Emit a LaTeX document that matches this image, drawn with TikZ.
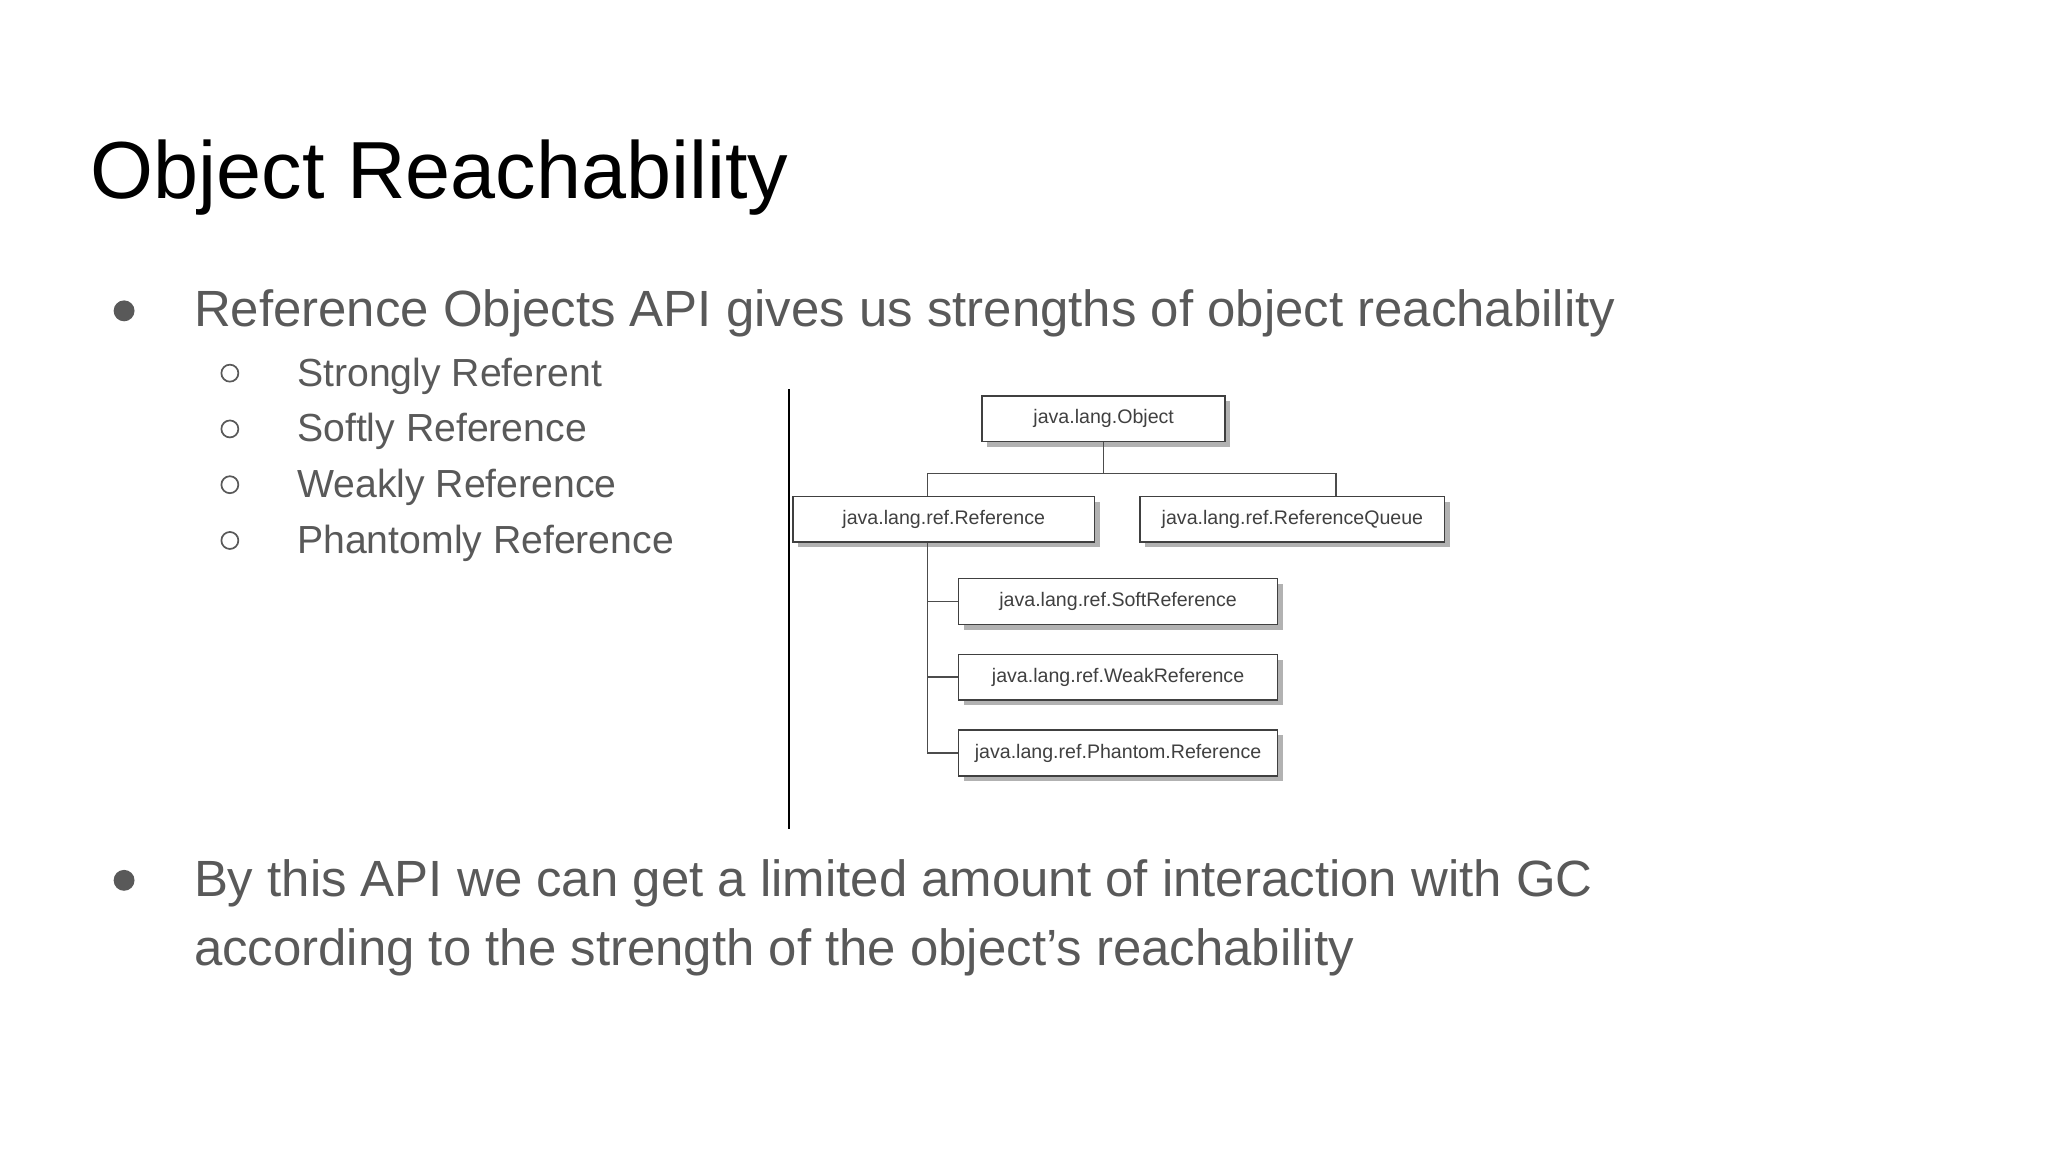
\documentclass[tikz,border=0pt]{standalone}
\usepackage{fontspec}
\setmainfont{Liberation Sans}
\usetikzlibrary{shadows}
\definecolor{txt}{HTML}{595959}
\begin{document}
\begin{tikzpicture}[x=1pt,y=-1pt,
  box/.style={draw=black!75,line width=1.2pt,fill=white,minimum height=35pt,inner sep=0pt,font=\fontsize{15}{15}\selectfont\color{black!75},
    drop shadow={shadow xshift=4pt,shadow yshift=-4pt,fill=black!30,opacity=1}},
  conn/.style={draw=black!70,line width=1.2pt},
  body/.style={anchor=base west,text=txt,font=\fontsize{39}{53}\selectfont},
  sub/.style={anchor=base west,text=txt,font=\fontsize{30}{35}\selectfont}]
\useasboundingbox[fill=white] (0,0) rectangle (1568,882);
\node[anchor=base west,font=\fontsize{62}{70}\selectfont] (title) at (66,152) {Object Reachability};
\node[body] (b1) at (145,250) {Reference Objects API gives us strengths of object reachability};
\fill[txt] (95,238) circle (8pt);
\foreach \i/\t in {1/Strongly Referent,2/Softly Reference,3/Weakly Reference,4/Phantomly Reference}{
  \node[sub] (s\i) at (224,{253+\i*42.7}) {\t};
  \draw[txt,line width=1.3pt] (176,{243+\i*42.7}) circle (6.5pt);
}
\fill[txt] (95,674) circle (8pt);
\node[body] (b2) at (145,686) {By this API we can get a limited amount of interaction with GC};
\node[body] (b3) at (145,739) {according to the strength of the object’s reachability};
\draw[line width=2pt] (604,298) coordinate (v1) -- (604,635) coordinate (v2);
\node[box,minimum width=186pt] (obj) at (845,320.5) {java.lang.Object};
\node[box,minimum width=231pt] (ref) at (722.5,397.5) {java.lang.ref.Reference};
\node[box,minimum width=233pt] (que) at (989.5,397.5) {java.lang.ref.ReferenceQueue};
\node[box,minimum width=244pt] (soft) at (856,460.5) {java.lang.ref.SoftReference};
\node[box,minimum width=244pt] (weak) at (856,518.5) {java.lang.ref.WeakReference};
\node[box,minimum width=244pt] (ph) at (856,576.5) {java.lang.ref.Phantom.Reference};
\draw[conn] (obj.south) -- ++(0,24) -| (ref.north -| 710,0);
\draw[conn] (obj.south) -- ++(0,24) -| (que.north -| 1023,0);
\draw[conn] (ref.south -| 710,0) |- (ph.west);
\draw[conn] (710,460.5) -- (soft.west);
\draw[conn] (710,518.5) -- (weak.west);
\end{tikzpicture}
\end{document}
